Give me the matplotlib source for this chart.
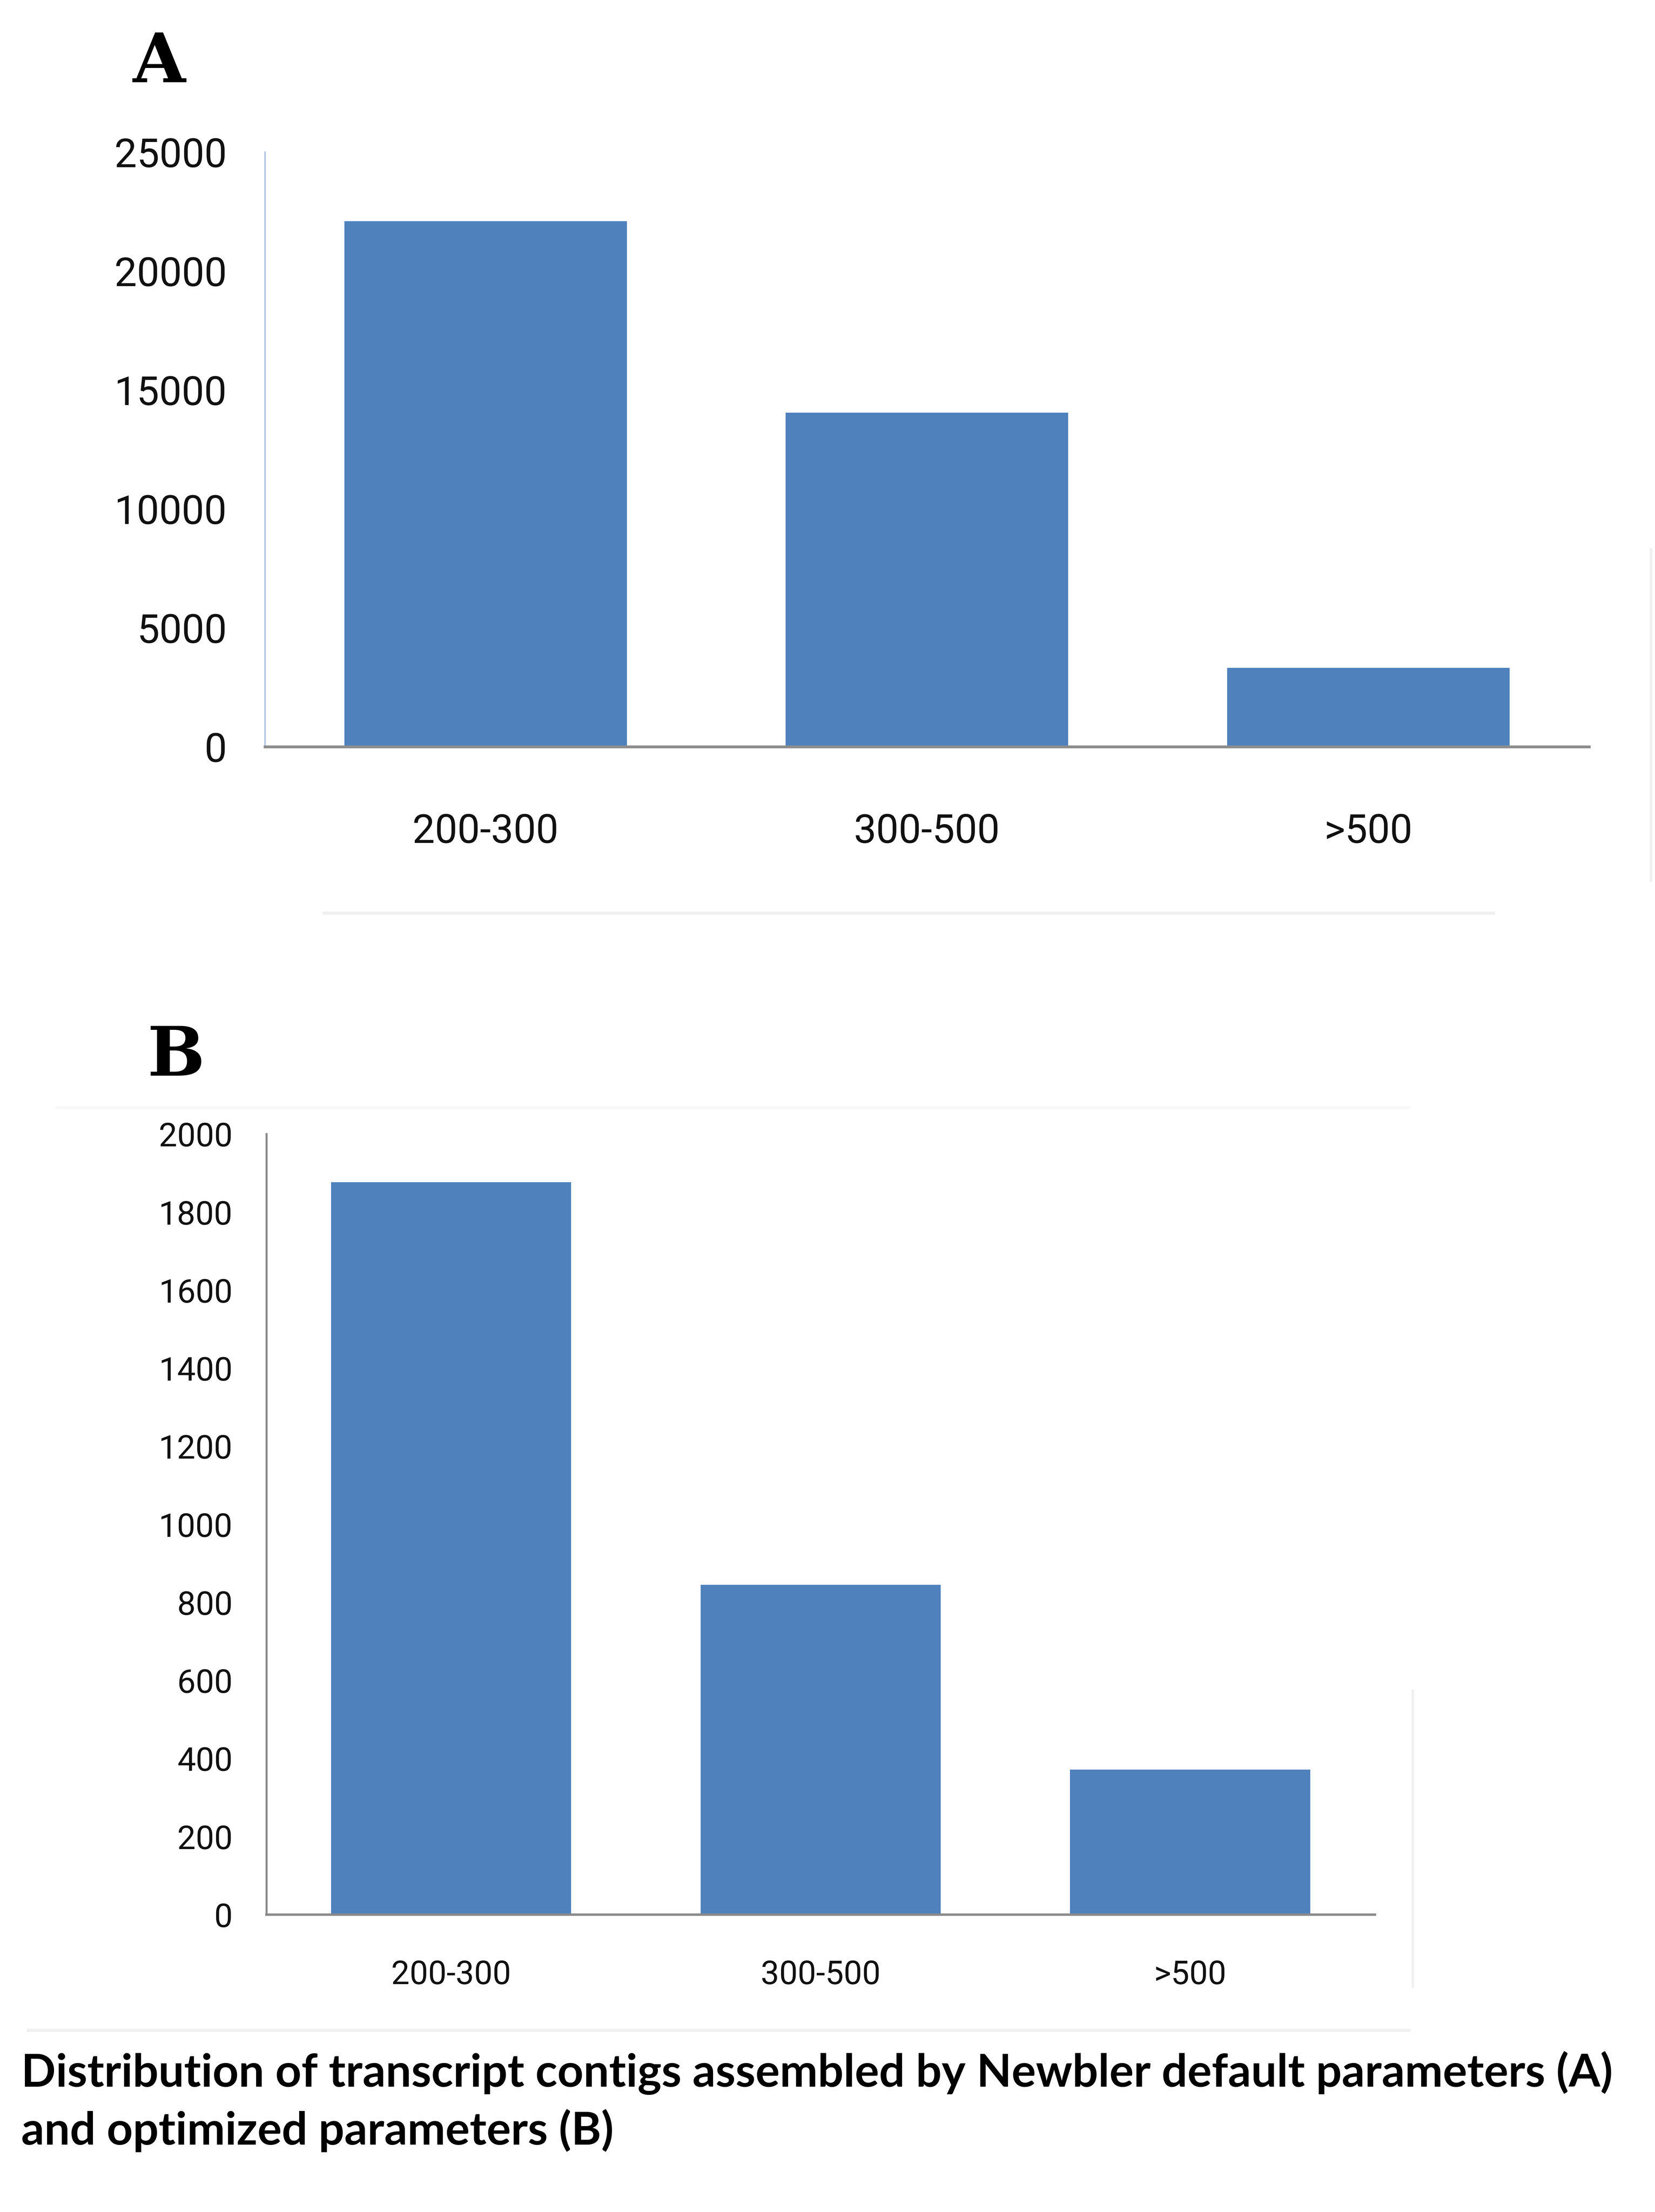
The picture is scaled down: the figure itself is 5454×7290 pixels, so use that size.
import matplotlib
matplotlib.use("Agg")
import matplotlib.pyplot as plt
from matplotlib.lines import Line2D

# data
categories = ["200-300", "300-500", ">500"]
counts_default = [22100, 14050, 3320]     # panel A
counts_optimized = [1877, 845, 372]       # panel B
ticks_a = [0, 5000, 10000, 15000, 20000, 25000]
ticks_b = list(range(0, 2001, 200))
caption_lines = ["Distribution of transcript contigs assembled by Newbler default parameters (A)",
                 "and optimized parameters (B)"]

BAR_COLOR = "#4F81BD"
FIG_W, FIG_H = 57.42, 76.74
DPI = 95   # full 100 dpi goes over the 40 Mpx reader limit

fig = plt.figure(figsize=(FIG_W, FIG_H), dpi=DPI)
fig.patch.set_facecolor("white")


def style_axes(ax, left_color, bottom_color, left_lw, bottom_lw):
    for side in ("top", "right"):
        ax.spines[side].set_visible(False)
    ax.spines["left"].set_color(left_color)
    ax.spines["left"].set_linewidth(left_lw)
    ax.spines["bottom"].set_color(bottom_color)
    ax.spines["bottom"].set_linewidth(bottom_lw)
    ax.set_facecolor("white")


# Panel A
ax1 = fig.add_axes([0.160, 0.6624, 0.800, 0.2688])
ax1.bar(range(len(categories)), counts_default, width=0.64, color=BAR_COLOR, zorder=2)
ax1.set_xlim(-0.5, 2.5)
ax1.set_ylim(0, 25000)
ax1.set_yticks(ticks_a)
ax1.set_yticklabels([str(t) for t in ticks_a], fontfamily="Roboto", fontsize=100, color="#111111")
ax1.set_xticks(range(len(categories)))
ax1.set_xticklabels(categories, fontfamily="Roboto", fontsize=100, color="#111111")
ax1.tick_params(axis="y", length=0, pad=95)
ax1.tick_params(axis="x", length=0, pad=165)
style_axes(ax1, "#B4C7E3", "#8C8C8C", 4, 7)

# Panel B
ax2 = fig.add_axes([0.1609, 0.1344, 0.6697, 0.3529])
ax2.bar(range(len(categories)), counts_optimized, width=0.65, color=BAR_COLOR, zorder=2)
ax2.set_xlim(-0.5, 2.5)
ax2.set_ylim(0, 2000)
ax2.set_yticks(ticks_b)
ax2.set_yticklabels([str(t) for t in ticks_b], fontfamily="Roboto", fontsize=82, color="#111111")
ax2.set_xticks(range(len(categories)))
ax2.set_xticklabels(categories, fontfamily="Roboto", fontsize=82, color="#111111")
ax2.tick_params(axis="y", length=0, pad=84)
ax2.tick_params(axis="x", length=0, pad=112)
style_axes(ax2, "#8A8A8A", "#8A8A8A", 5, 6)

# panel letters (slab serif, like Courier bold)
fig.text(113 / 1175, 1 - 45 / 1570, "A", fontfamily="DejaVu Serif", fontweight="bold",
         fontsize=170, ha="center", va="center")
fig.text(125 / 1175, 1 - 750 / 1570, "B", fontfamily="DejaVu Serif", fontweight="bold",
         fontsize=170, ha="center", va="center")

# faint scan edges left over from the original screenshots
faint = "#F0F0F0"
fig.add_artist(Line2D([230 / 1175, 1060 / 1175], [1 - 648 / 1570] * 2, color=faint, lw=8))
fig.add_artist(Line2D([20 / 1175, 1000 / 1175], [1 - 1441 / 1570] * 2, color=faint, lw=8))
fig.add_artist(Line2D([40 / 1175, 1000 / 1175], [1 - 786 / 1570] * 2, color="#F6F6F6", lw=5))
fig.add_artist(Line2D([1172 / 1175] * 2, [1 - 390 / 1570, 1 - 625 / 1570], color=faint, lw=6))
fig.add_artist(Line2D([1003 / 1175] * 2, [1 - 1200 / 1570, 1 - 1410 / 1570], color=faint, lw=6))

# caption, sized so the first line spans the same width as the original
cap1 = fig.text(15 / 1175, 0.0567, caption_lines[0], fontfamily="Lato", fontweight="bold",
                fontsize=110, ha="left", va="baseline")
cap2 = fig.text(15 / 1175, 0.0305, caption_lines[1], fontfamily="Lato", fontweight="bold",
                fontsize=110, ha="left", va="baseline")
renderer = fig.canvas.get_renderer()
target = (1145 - 15) / 1175 * FIG_W * DPI
width_now = cap1.get_window_extent(renderer).width
size = 110 * target / width_now
cap1.set_fontsize(size)
cap2.set_fontsize(size)

fig.savefig("out.png", dpi=DPI, facecolor="white")
